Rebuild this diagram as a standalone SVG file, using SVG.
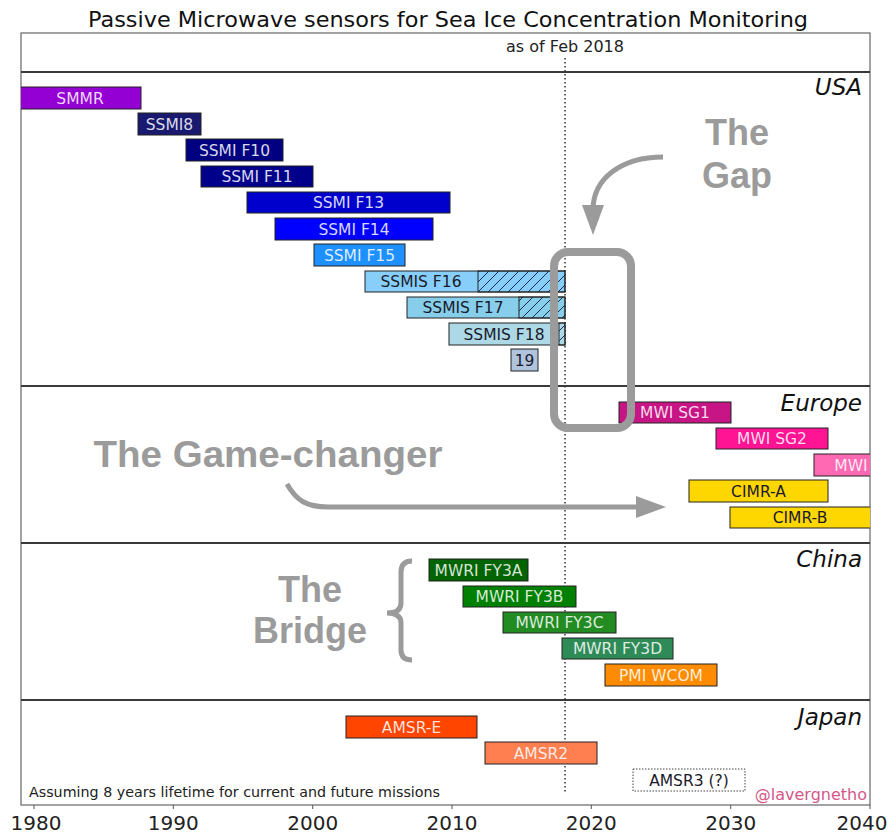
<svg xmlns="http://www.w3.org/2000/svg" width="896" height="835" viewBox="0 0 896 835">
<defs>
<style>
.title{font-family:"DejaVu Sans",sans-serif;font-size:21px;fill:#111}
.note{font-family:"DejaVu Sans",sans-serif;font-size:16px;fill:#222}
.region{font-family:"DejaVu Sans",sans-serif;font-style:italic;font-size:23px;fill:#111;text-anchor:end}
.axis{font-family:"DejaVu Sans",sans-serif;font-size:20px;fill:#222;text-anchor:middle}
.bar{stroke:#222;stroke-width:1}
.lt{font-family:"DejaVu Sans",sans-serif;font-size:15.5px;fill:#fff;fill-opacity:0.85;text-anchor:middle}
.dk{font-family:"DejaVu Sans",sans-serif;font-size:15.5px;fill:#1a1a2a;text-anchor:middle}
.ann{font-family:"Liberation Sans",Arial,sans-serif;font-weight:bold;font-size:36px;fill:#9b9b9b;text-anchor:middle}
.annline{fill:none;stroke:#9b9b9b;stroke-width:5}
.sep{stroke:#3a3a3a;stroke-width:2}
.tick{stroke:#555;stroke-width:1}
</style>
<pattern id="hatch" patternUnits="userSpaceOnUse" width="10" height="10">
<path d="M0,10 L10,0 M-2,2 L2,-2 M8,12 L12,8" stroke="#1a2a50" stroke-width="1"/>
</pattern>
<clipPath id="plot"><rect x="21" y="33" width="849" height="772"/></clipPath>
<marker id="head" markerUnits="userSpaceOnUse" markerWidth="30" markerHeight="22" viewBox="0 0 30 22" refX="5" refY="11" orient="auto">
<path d="M0,0 L30,11 L0,22 z" fill="#9b9b9b"/>
</marker>
</defs>
<rect width="896" height="835" fill="#fff"/>
<text class="title" x="448" y="27" text-anchor="middle" textLength="720" lengthAdjust="spacingAndGlyphs">Passive Microwave sensors for Sea Ice Concentration Monitoring</text>

<g id="frame">
<rect x="21" y="33" width="849" height="772" fill="none" stroke="#666" stroke-width="1.2"/>
<line class="sep" x1="21" y1="72" x2="870" y2="72"/>
<line class="sep" x1="21" y1="386" x2="870" y2="386"/>
<line class="sep" x1="21" y1="543" x2="870" y2="543"/>
<line class="sep" x1="21" y1="700" x2="870" y2="700"/>
<line x1="565" y1="58" x2="565" y2="793" stroke="#333" stroke-width="1.5" stroke-dasharray="1.5,2.5"/>
<text class="note" x="565" y="52" text-anchor="middle">as of Feb 2018</text>
<text class="region" x="862" y="95">USA</text>
<text class="region" x="862" y="411">Europe</text>
<text class="region" x="862" y="567">China</text>
<text class="region" x="862" y="725">Japan</text>
</g>

<g id="axis">
<line class="tick" x1="34" y1="805" x2="34" y2="809"/>
<line class="tick" x1="173.3" y1="805" x2="173.3" y2="809"/>
<line class="tick" x1="312.7" y1="805" x2="312.7" y2="809"/>
<line class="tick" x1="452" y1="805" x2="452" y2="809"/>
<line class="tick" x1="591.3" y1="805" x2="591.3" y2="809"/>
<line class="tick" x1="730.7" y1="805" x2="730.7" y2="809"/>
<line class="tick" x1="870" y1="805" x2="870" y2="809"/>
<text class="axis" x="36" y="830">1980</text>
<text class="axis" x="173.3" y="830">1990</text>
<text class="axis" x="312.7" y="830">2000</text>
<text class="axis" x="452" y="830">2010</text>
<text class="axis" x="591.3" y="830">2020</text>
<text class="axis" x="730.7" y="830">2030</text>
<text class="axis" x="862" y="830">2040</text>
</g>

<g clip-path="url(#plot)">
<g id="smmr"><rect class="bar" x="20" y="87" width="121" height="22" fill="#9400d3"/><text class="lt" x="80" y="104">SMMR</text></g>
<g id="ssmi8"><rect class="bar" x="138" y="113" width="63" height="22" fill="#191970"/><text class="lt" x="169.5" y="130">SSMI8</text></g>
<g id="ssmi-f10"><rect class="bar" x="186" y="139" width="97" height="22" fill="#000080"/><text class="lt" x="234.5" y="156">SSMI F10</text></g>
<g id="ssmi-f11"><rect class="bar" x="201" y="166" width="112" height="21" fill="#00008b"/><text class="lt" x="257" y="182">SSMI F11</text></g>
<g id="ssmi-f13"><rect class="bar" x="247" y="192" width="203" height="21" fill="#0000cd"/><text class="lt" x="348.5" y="208">SSMI F13</text></g>
<g id="ssmi-f14"><rect class="bar" x="275" y="218" width="158" height="22" fill="#0000ff"/><text class="lt" x="354" y="235">SSMI F14</text></g>
<g id="ssmi-f15"><rect class="bar" x="314" y="244" width="91" height="22" fill="#1e90ff"/><text class="lt" x="359.5" y="261">SSMI F15</text></g>
<g id="ssmis-f16"><rect class="bar" x="365" y="271" width="200" height="21" fill="#87cefa"/><rect x="478" y="271" width="87" height="21" fill="url(#hatch)" stroke="#222" stroke-width="1"/><text class="dk" x="421" y="287">SSMIS F16</text></g>
<g id="ssmis-f17"><rect class="bar" x="407" y="297" width="158" height="21" fill="#87ceeb"/><rect x="519" y="297" width="46" height="21" fill="url(#hatch)" stroke="#222" stroke-width="1"/><text class="dk" x="463" y="313">SSMIS F17</text></g>
<g id="ssmis-f18"><rect class="bar" x="449" y="323" width="116" height="22" fill="#add8e6"/><rect x="559" y="323" width="6" height="22" fill="url(#hatch)" stroke="#222" stroke-width="1"/><text class="dk" x="504" y="340">SSMIS F18</text></g>
<g id="ssmis-19"><rect class="bar" x="511" y="349" width="27" height="22" fill="#b0c4de"/><text class="dk" x="524.5" y="366">19</text></g>

<g id="mwi-sg1"><rect class="bar" x="619" y="402" width="112" height="21" fill="#c71585"/><text class="lt" x="675" y="418">MWI SG1</text></g>
<g id="mwi-sg2"><rect class="bar" x="716" y="428" width="112" height="21" fill="#ff1493"/><text class="lt" x="772" y="444">MWI SG2</text></g>
<g id="mwi-sg3"><rect class="bar" x="814" y="454" width="70" height="22" fill="#ff69b4"/><text class="lt" x="851" y="471">MWI</text></g>
<g id="cimr-a"><rect class="bar" x="689" y="480" width="139" height="22" fill="#ffd700"/><text class="dk" x="758.5" y="497">CIMR-A</text></g>
<g id="cimr-b"><rect class="bar" x="730" y="507" width="150" height="21" fill="#ffd700"/><text class="dk" x="800" y="523">CIMR-B</text></g>

<g id="mwri-fy3a"><rect class="bar" x="429" y="559" width="99" height="22" fill="#006400"/><text class="lt" x="478.5" y="576">MWRI FY3A</text></g>
<g id="mwri-fy3b"><rect class="bar" x="463" y="586" width="113" height="21" fill="#008000"/><text class="lt" x="519.5" y="602">MWRI FY3B</text></g>
<g id="mwri-fy3c"><rect class="bar" x="503" y="612" width="113" height="21" fill="#228b22"/><text class="lt" x="559.5" y="628">MWRI FY3C</text></g>
<g id="mwri-fy3d"><rect class="bar" x="562" y="638" width="111" height="21" fill="#2e8b57"/><text class="lt" x="617.5" y="654">MWRI FY3D</text></g>
<g id="pmi-wcom"><rect class="bar" x="605" y="664" width="112" height="22" fill="#ff8c00"/><text class="lt" x="661" y="681">PMI WCOM</text></g>

<g id="amsr-e"><rect class="bar" x="346" y="716" width="131" height="22" fill="#ff4500"/><text class="lt" x="411.5" y="733">AMSR-E</text></g>
<g id="amsr2"><rect class="bar" x="485" y="742" width="112" height="22" fill="#ff7f50"/><text class="lt" x="541" y="759">AMSR2</text></g>
<g id="amsr3"><rect x="633" y="769" width="112" height="22" fill="#fff" stroke="#444" stroke-width="1" stroke-dasharray="1.5,1.5"/><text class="dk" x="689" y="786">AMSR3 (?)</text></g>
</g>

<g id="footnotes">
<text x="29" y="797" font-family="DejaVu Sans,sans-serif" font-size="14" fill="#222" textLength="411" lengthAdjust="spacingAndGlyphs">Assuming 8 years lifetime for current and future missions</text>
<text x="867" y="800" font-family="DejaVu Sans,sans-serif" font-size="16" fill="#d4588a" text-anchor="end">@lavergnetho</text>
</g>

<g id="gap-annotation">
<text class="ann" x="737" y="145">The</text>
<text class="ann" x="737" y="188">Gap</text>
<rect x="554" y="252" width="77" height="176" rx="14" fill="none" stroke="#9b9b9b" stroke-width="8"/>
</g>

<g id="game-changer-annotation">
<text class="ann" x="268" y="467" textLength="349" lengthAdjust="spacingAndGlyphs">The Game-changer</text>
</g>

<g id="bridge-annotation">
<text class="ann" x="310" y="602">The</text>
<text class="ann" x="310" y="643">Bridge</text>
<path class="annline" d="M412,561 Q401,561 401,572 L401,603 Q401,613 387,613 Q401,613 401,623 L401,650 Q401,660 412,660" stroke-width="4.5"/>
</g>

<g id="connectors">
<path class="annline" d="M663,157 C622,157 593,178 593,210" marker-end="url(#head)"/>
<path class="annline" d="M287,484 C296,500 306,507 328,507 L641,507" marker-end="url(#head)"/>
</g>
</svg>
